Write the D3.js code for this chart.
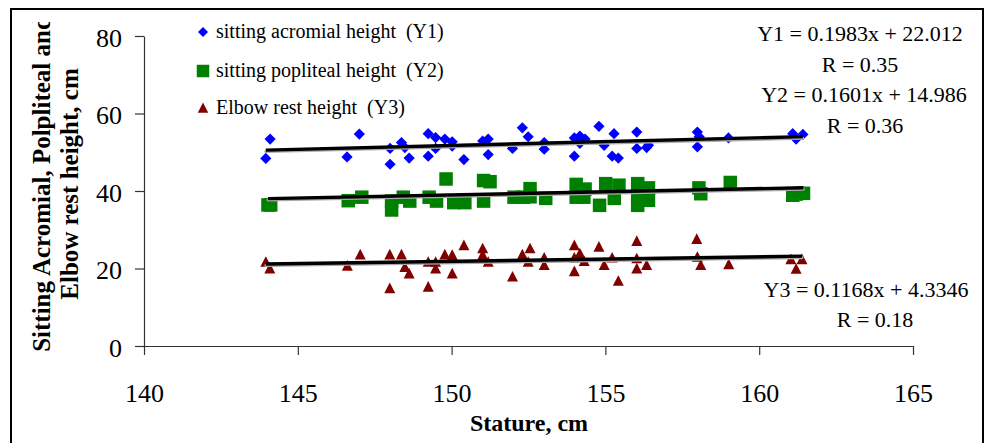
<!DOCTYPE html>
<html>
<head>
<meta charset="utf-8">
<script src="https://cdn.jsdelivr.net/npm/d3@7"></script>
<style>
  html, body { margin: 0; padding: 0; background: #fff; }
  svg { display: block; }
</style>
</head>
<body>
<svg id="chart" width="987" height="443"></svg>
<script>
// Stature (cm) vs. sitting body dimensions (cm)
const acromial = [
  [143.96,48.4],[144.1,53.4],[146.6,48.8],[147.0,54.7],[148.0,51.0],[148.0,46.9],
  [148.37,52.5],[148.48,51.2],[148.62,48.5],[149.24,54.8],[149.24,49.0],[149.48,53.8],
  [149.48,51.0],[149.78,53.4],[150.02,52.7],[150.02,51.6],[150.4,48.1],[151.01,52.9],
  [151.19,53.4],[151.19,49.4],[151.98,51.0],[152.3,56.3],[152.49,54.0],[153.01,52.5],
  [153.01,50.8],[153.99,53.7],[153.99,49.0],[154.17,54.2],[154.17,52.3],[154.34,53.4],
  [154.79,56.7],[154.96,51.8],[155.28,54.8],[155.22,49.0],[155.42,48.5],[156.02,55.2],
  [156.02,51.0],[156.34,51.2],[156.4,51.8],[157.99,55.2],[158.05,54.0],[157.99,51.4],
  [159.0,53.7],[161.09,54.8],[161.2,53.4],[161.42,54.6]
];
const popliteal = [
  [144.03,36.4],[144.12,36.4],[146.64,37.5],[147.08,38.4],[148.05,37.4],[148.05,35.1],
  [148.43,38.4],[148.64,37.4],[149.27,38.4],[149.51,37.4],[149.82,43.1],[150.07,37.0],
  [150.43,37.0],[151.04,42.7],[151.25,42.4],[151.04,37.4],[152.03,38.4],[152.33,38.4],
  [152.55,40.6],[152.55,38.5],[153.06,38.1],[154.05,41.7],[154.34,40.5],[154.05,38.4],
  [154.3,38.4],[154.81,36.3],[155.01,41.9],[155.44,41.5],[155.29,38.1],[156.05,41.9],
  [156.05,38.4],[156.05,36.3],[156.4,40.8],[156.4,37.6],[158.04,40.8],[158.1,39.3],
  [159.06,42.2],[161.09,38.9],[161.44,39.4],[161.2,39.2]
];
const elbowRest = [
  [143.96,21.7],[144.09,20.0],[146.61,20.7],[147.03,23.6],[147.99,23.6],[147.99,14.9],
  [148.37,23.6],[148.48,20.4],[148.62,18.7],[149.24,21.7],[149.24,15.3],[149.48,21.7],
  [149.48,20.0],[149.78,23.6],[150.02,23.5],[150.02,18.7],[150.4,26.0],[151.01,25.2],
  [151.01,23.5],[151.19,21.7],[151.98,17.9],[152.3,23.6],[152.49,21.7],[152.55,25.2],
  [153.01,22.8],[153.01,20.9],[153.99,26.0],[153.99,22.8],[153.99,19.3],[154.17,23.9],
  [154.31,21.9],[154.79,25.6],[154.96,20.9],[155.22,22.8],[155.42,16.8],[156.02,27.1],
  [156.02,22.6],[156.02,20.0],[156.34,20.9],[157.97,27.6],[157.99,23.0],[158.1,20.9],
  [159.01,21.1],[161.03,22.4],[161.2,19.9],[161.39,22.4]
];

// Linear fits: [slope, intercept]
const fitY1 = [0.1983, 22.012];
const fitY2 = [0.1601, 14.986];
const fitY3 = [0.1168, 4.3346];

const seriesNames = ["sitting acromial height  (Y1)", "sitting popliteal height  (Y2)", "Elbow rest height  (Y3)"];
const seriesColors = ["#0000FF", "#008000", "#800000"];
const xTicks = [140, 145, 150, 155, 160, 165];
const yTicks = [0, 20, 40, 60, 80];
const equationLabels = [
  "Y1 = 0.1983x + 22.012", "R = 0.35",
  "Y2 = 0.1601x + 14.986", "R = 0.36",
  "Y3 = 0.1168x + 4.3346", "R = 0.18"
];

const svg = d3.select("#chart");
const serif = "'Liberation Serif', 'Times New Roman', serif";

const x = d3.scaleLinear().domain([140, 165]).range([144, 913]);
const y = d3.scaleLinear().domain([0, 80]).range([346, 36]);

// outer frame
svg.append("rect")
  .attr("x", 11).attr("y", 9).attr("width", 972).attr("height", 440)
  .attr("fill", "none").attr("stroke", "#000").attr("stroke-width", 2);

// axes
const axisColor = "#333";
const gx = svg.append("g").attr("transform", "translate(0,346)")
  .call(d3.axisBottom(x).tickValues(xTicks).tickSize(9).tickSizeOuter(0).tickPadding(29));
const gy = svg.append("g").attr("transform", "translate(144,0)")
  .call(d3.axisLeft(y).tickValues(yTicks).tickSize(9).tickSizeOuter(0).tickPadding(13));
[gx, gy].forEach(g => {
  g.select(".domain").attr("stroke", axisColor).attr("stroke-width", 1.2);
  g.selectAll(".tick line").attr("stroke", axisColor).attr("stroke-width", 1.2);
  g.selectAll(".tick text").attr("fill", "#000")
    .style("font-family", serif).style("font-size", "26px");
});
gy.selectAll(".tick text").attr("dy", "0.4em");

// axis titles
svg.append("text")
  .attr("x", 529).attr("y", 431).attr("text-anchor", "middle")
  .style("font-family", serif).style("font-size", "24px").style("font-weight", "bold")
  .text("Stature, cm");

svg.append("clipPath").attr("id", "ytitle-clip")
  .append("rect").attr("x", 12).attr("y", 22).attr("width", 120).attr("height", 420);
const yTitle = svg.append("g").attr("clip-path", "url(#ytitle-clip)")
  .append("text")
  .attr("transform", "translate(50,184) rotate(-90)")
  .attr("text-anchor", "middle")
  .style("font-family", serif).style("font-size", "25px").style("font-weight", "bold");
yTitle.append("tspan").attr("x", 0).attr("y", 0).text("Sitting Acromial, Polpliteal and");
yTitle.append("tspan").attr("x", 0).attr("y", 28).text("Elbow rest height, cm");

// marker shapes
const diamond = r => `M0,${-r}L${r},0L0,${r}L${-r},0Z`;
const square = s => `M${-s/2},${-s/2}h${s}v${s}h${-s}Z`;
const triangle = w => `M0,${-w*0.52}L${w/2},${w*0.45}L${-w/2},${w*0.45}Z`;
const shapes = [diamond(5.6), square(13.5), triangle(11)];
const datasets = [acromial, popliteal, elbowRest];
const fits = [fitY1, fitY2, fitY3];

datasets.forEach((data, i) => {
  svg.append("g").selectAll("path")
    .data(data).join("path")
    .attr("transform", d => `translate(${x(d[0])},${y(d[1])})`)
    .attr("d", shapes[i])
    .attr("fill", seriesColors[i]);
});

// trend lines across each series' stature range
datasets.forEach((data, i) => {
  const [m, b] = fits[i];
  const ext = d3.extent(data, d => d[0]);
  const pts = ext.map(v => [x(v), y(m * v + b)]);
  svg.append("line")
    .attr("x1", pts[0][0]).attr("y1", pts[0][1] + 1.5)
    .attr("x2", pts[1][0]).attr("y2", pts[1][1] + 1.5)
    .attr("stroke", "#aaa").attr("stroke-width", 3).attr("stroke-linecap", "round");
  svg.append("line")
    .attr("x1", pts[0][0]).attr("y1", pts[0][1])
    .attr("x2", pts[1][0]).attr("y2", pts[1][1])
    .attr("stroke", "#000").attr("stroke-width", 3.4);
});

// legend
const legendShapes = [diamond(5), square(12.5), triangle(10.5)];
const legendRows = [32, 71, 108];
seriesNames.forEach((name, i) => {
  svg.append("path")
    .attr("transform", `translate(203,${legendRows[i]})`)
    .attr("d", legendShapes[i]).attr("fill", seriesColors[i]);
  svg.append("text")
    .attr("x", 216).attr("y", legendRows[i] + 6)
    .style("font-family", serif).style("font-size", "20px")
    .style("white-space", "pre")
    .text(name);
});

// regression equations
const eqPos = [[860, 41], [860, 72], [864, 102], [865, 133], [866, 297], [875, 327]];
equationLabels.forEach((t, i) => {
  svg.append("text")
    .attr("x", eqPos[i][0]).attr("y", eqPos[i][1])
    .attr("text-anchor", "middle")
    .style("font-family", serif).style("font-size", "22px")
    .text(t);
});
</script>
</body>
</html>
